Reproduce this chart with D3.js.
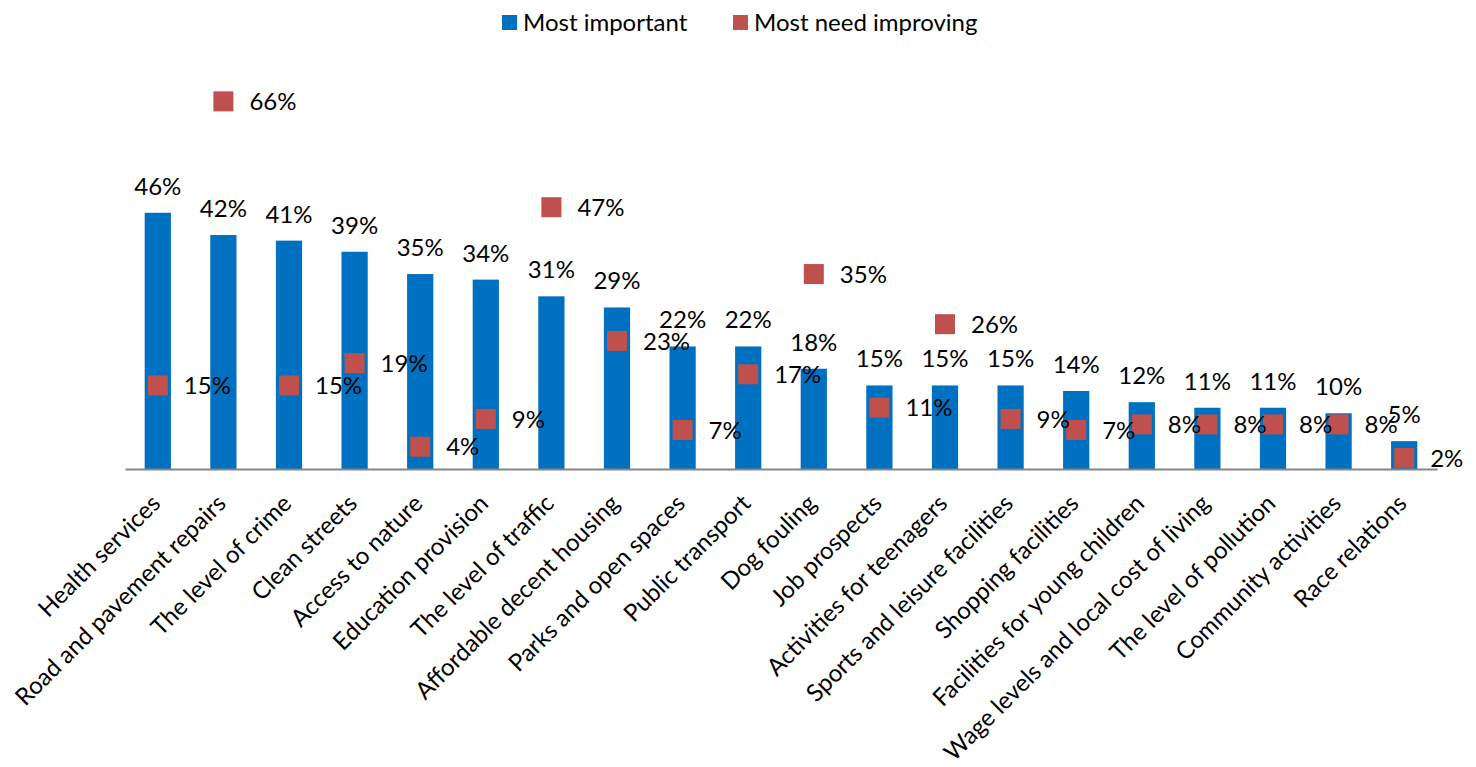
<!DOCTYPE html>
<html><head><meta charset="utf-8">
<script src="https://cdn.jsdelivr.net/npm/d3@7"></script>
<style>body{margin:0;background:#fff}svg{display:block;font-family:Lato,"Open Sans",sans-serif}</style>
</head><body>
<svg id="c" width="1476" height="767"></svg>
<script>
const categories = ["Health services","Road and pavement repairs","The level of crime","Clean streets","Access to nature","Education provision","The level of traffic","Affordable decent housing","Parks and open spaces","Public transport","Dog fouling","Job prospects","Activities for teenagers","Sports and leisure facilities","Shopping facilities","Facilities for young children","Wage levels and local cost of living","The level of pollution","Community activities","Race relations"];
const mostImportant = [46,42,41,39,35,34,31,29,22,22,18,15,15,15,14,12,11,11,10,5];
const needImproving = [15,66,15,19,4,9,47,23,7,17,35,11,26,9,7,8,8,8,8,2];
const seriesNames = ["Most important","Most need improving"];
const colors = ["#0070C0","#C0504D"];

const svg = d3.select("#c");
const x = d3.scaleBand().domain(categories).range([125,1437]).paddingInner(0.6).paddingOuter(0.3);
const y = d3.scaleLinear().domain([0,70]).range([469,469-70*5.57]);
const cx = d => x(d) + x.bandwidth()/2;
const FS = 24;

// bars
svg.append("g").selectAll("rect").data(categories).join("rect")
  .attr("x", d => x(d)).attr("width", x.bandwidth())
  .attr("y", (d,i) => y(mostImportant[i])).attr("height", (d,i) => y(0)-y(mostImportant[i]))
  .attr("fill", colors[0]);

// axis
const axis = svg.append("g").attr("transform", `translate(0,${y(0)})`)
  .call(d3.axisBottom(x).tickSize(0).tickSizeOuter(0).tickFormat(""));
axis.select(".domain").attr("stroke","#868686").attr("stroke-width",2);

// bar labels
svg.append("g").selectAll("text").data(categories).join("text")
  .attr("x", cx).attr("y", (d,i) => y(mostImportant[i]) - 18)
  .attr("text-anchor","middle").attr("font-size",FS).attr("fill","#000")
  .text((d,i) => mostImportant[i] + "%");

// markers
svg.append("g").selectAll("rect").data(categories).join("rect")
  .attr("x", d => cx(d) - 10).attr("y", (d,i) => y(needImproving[i]) - 10)
  .attr("width",20).attr("height",20).attr("fill",colors[1]);

svg.append("g").selectAll("text").data(categories).join("text")
  .attr("x", d => cx(d) + 26).attr("y", (d,i) => y(needImproving[i]))
  .attr("dy","0.36em").attr("font-size",FS).attr("fill","#000")
  .text((d,i) => needImproving[i] + "%");

// category labels
svg.append("g").selectAll("text").data(categories).join("text")
  .attr("transform", d => `translate(${cx(d)-2},${y(0)+30}) rotate(-45)`)
  .attr("text-anchor","end").attr("dy","0.35em").attr("font-size",FS).attr("fill","#000")
  .text(d => d);

// legend
const leg = svg.append("g");
const legItems = [{x:502,name:seriesNames[0],c:colors[0]},{x:733,name:seriesNames[1],c:colors[1]}];
legItems.forEach(it => {
  leg.append("rect").attr("x",it.x).attr("y",15).attr("width",15).attr("height",15).attr("fill",it.c);
  leg.append("text").attr("x",it.x+21).attr("y",22.5).attr("dy","0.36em").attr("font-size",FS).attr("fill","#000").text(it.name);
});
</script>
</body></html>
